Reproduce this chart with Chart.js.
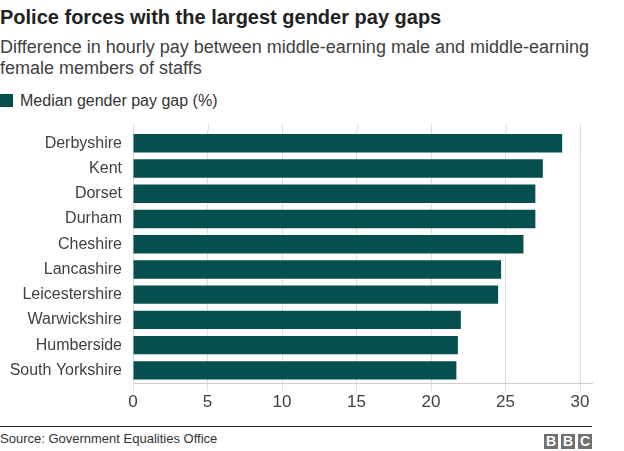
<!DOCTYPE html>
<html>
<head>
<meta charset="utf-8">
<script src="https://cdn.jsdelivr.net/npm/chart.js@4"></script>
<style>
  body { margin: 0; width: 624px; height: 451px; background: #fff; font-family: "Liberation Sans", Arial, sans-serif; position: relative; overflow: hidden; }
  .title { position: absolute; left: 0; top: 3px; font-size: 20px; font-weight: bold; color: #222; line-height: 28px; }
  .subtitle { position: absolute; left: 0; top: 37px; font-size: 18px; color: #404040; line-height: 21px; width: 604px; }
  .legend { position: absolute; left: 0; top: 91px; font-size: 16px; color: #333; line-height: 20px; }
  .legend span.box { display: inline-block; width: 13px; height: 13px; background: #054f4f; vertical-align: -1px; margin-right: 7px; }
  .chart { position: absolute; left: 0; top: 110px; width: 624px; height: 305px; }
  .rule { position: absolute; left: 0; top: 426px; width: 592px; height: 1px; background: #222; }
  .source { position: absolute; left: 0; top: 431px; font-size: 13px; color: #333; line-height: 16px; }
  .bbc { position: absolute; left: 544px; top: 432px; }
  .bbc span { display: inline-block; width: 14px; height: 15px; background: #707070; color: #fff; font: bold 14px "Liberation Sans", Arial, sans-serif; text-align: center; line-height: 15px; margin-right: 3px; }
</style>
</head>
<body>
<div class="title">Police forces with the largest gender pay gaps</div>
<div class="subtitle">Difference in hourly pay between middle-earning male and middle-earning female members of staffs</div>
<div class="legend"><span class="box"></span>Median gender pay gap (%)</div>
<div class="chart"><canvas id="payGapChart" width="624" height="305"></canvas></div>
<div class="rule"></div>
<div class="source">Source: Government Equalities Office</div>
<div class="bbc"><span>B</span><span>B</span><span style="margin-right:0">C</span></div>

<script>
const forces = ['Derbyshire', 'Kent', 'Dorset', 'Durham', 'Cheshire', 'Lancashire',
    'Leicestershire', 'Warwickshire', 'Humberside', 'South Yorkshire'];
const medianPayGap = [28.8, 27.5, 27.0, 27.0, 26.2, 24.7, 24.5, 22.0, 21.8, 21.7];
const xTicks = [0, 5, 10, 15, 20, 25, 30];

// grid lines in the original poke a little above the first bar
const gridAbove = {
    id: 'gridAbove',
    beforeDraw(chart) {
        const ctx = chart.ctx;
        const x = chart.scales.x;
        const top = chart.chartArea.top;
        ctx.save();
        ctx.strokeStyle = '#dddddd';
        ctx.lineWidth = 1;
        xTicks.forEach(t => {
            const px = Math.round(x.getPixelForValue(t)) + 0.5;
            ctx.beginPath();
            ctx.moveTo(px, top - 7);
            ctx.lineTo(px, top);
            ctx.stroke();
        });
        ctx.restore();
    }
};

const ctx = document.getElementById('payGapChart').getContext('2d');
new Chart(ctx, {
    type: 'bar',
    data: {
        labels: forces,
        datasets: [{
            label: 'Median gender pay gap (%)',
            data: medianPayGap,
            backgroundColor: '#054f4f',
            barPercentage: 0.73,
            categoryPercentage: 1
        }]
    },
    options: {
        indexAxis: 'y',
        responsive: false,
        animation: false,
        layout: { padding: { top: 19, right: 32, left: 0, bottom: 0 } },
        plugins: {
            legend: { display: false },
            tooltip: { enabled: false }
        },
        scales: {
            x: {
                min: 0,
                max: 30.8,
                afterBuildTicks: scale => { scale.ticks = xTicks.map(v => ({ value: v })); },
                afterFit: scale => { scale.height = 32; },
                grid: { color: '#dddddd', tickLength: 8, drawTicks: true },
                border: { color: '#cccccc' },
                ticks: {
                    padding: 1,
                    color: '#404040',
                    font: { family: 'Liberation Sans', size: 17 }
                }
            },
            y: {
                afterFit: scale => { scale.width = 133; },
                grid: { display: false, drawTicks: false },
                border: { display: false },
                ticks: {
                    padding: 11,
                    color: '#404040',
                    font: { family: 'Liberation Sans', size: 16 }
                }
            }
        }
    },
    plugins: [gridAbove]
});
</script>
</body>
</html>
